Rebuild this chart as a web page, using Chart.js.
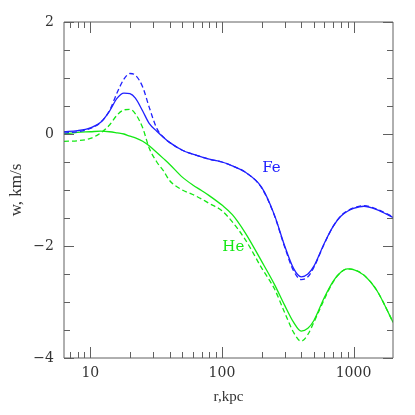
<!DOCTYPE html>
<html>
<head>
<meta charset="utf-8">
<script src="https://cdn.jsdelivr.net/npm/chart.js@4.4.0/dist/chart.umd.min.js"></script>
<style>
html, body { margin: 0; padding: 0; background: #fff; }
#wrap { width: 415px; height: 415px; }
</style>
</head>
<body>
<div id="wrap"><canvas id="wplot"></canvas></div>
<script>
// r in kpc
var radius = [6.31, 8, 10, 12, 14, 16, 18, 20, 22, 25, 28, 32, 36, 40, 50, 60, 70, 80, 100, 120, 150, 200, 250, 300, 350, 400, 450, 500, 600, 700, 800, 900, 1000, 1200, 1500, 1995];

// w in km/s
var feSolid  = [0.04, 0.06, 0.11, 0.21, 0.41, 0.64, 0.73, 0.72, 0.64, 0.41, 0.19, 0.05, -0.06, -0.15, -0.29, -0.36, -0.41, -0.45, -0.50, -0.57, -0.68, -0.95, -1.44, -2.00, -2.40, -2.55, -2.50, -2.36, -1.95, -1.65, -1.47, -1.38, -1.33, -1.29, -1.35, -1.49];
var feDashed = [0.02, 0.04, 0.10, 0.21, 0.42, 0.74, 0.98, 1.08, 1.05, 0.84, 0.48, 0.10, -0.06, -0.15, -0.29, -0.36, -0.41, -0.45, -0.50, -0.57, -0.68, -0.96, -1.45, -2.02, -2.44, -2.60, -2.55, -2.38, -1.96, -1.65, -1.46, -1.37, -1.32, -1.28, -1.34, -1.48];
var heSolid  = [0.00, 0.03, 0.04, 0.05, 0.04, 0.02, 0.00, -0.04, -0.07, -0.13, -0.21, -0.33, -0.44, -0.54, -0.77, -0.91, -1.01, -1.10, -1.27, -1.44, -1.76, -2.27, -2.68, -3.06, -3.36, -3.52, -3.47, -3.33, -2.92, -2.63, -2.47, -2.41, -2.42, -2.52, -2.79, -3.36];
var heDashed = [-0.13, -0.12, -0.08, 0.02, 0.16, 0.34, 0.43, 0.44, 0.36, 0.11, -0.25, -0.50, -0.66, -0.83, -1.00, -1.08, -1.16, -1.24, -1.37, -1.57, -1.88, -2.39, -2.76, -3.19, -3.54, -3.70, -3.58, -3.36, -2.95, -2.64, -2.47, -2.41, -2.42, -2.52, -2.79, -3.36];

var xLabelValues = [10, 100, 1000];
var yLabelValues = [-4, -2, 0, 2];

// curve names written next to the lines
var curveNames = ['Fe', 'He'];
var nameR = [238, 122];
var nameW = [-0.61, -2.02];

var blue = 'rgb(32,32,255)';
var green = 'rgb(20,232,20)';
var nameColors = [blue, green];

function pts(ys) {
    return radius.map(function(r, i) { return {x: r, y: ys[i]}; });
}

function line(label, ys, color, dashed) {
    return {
        label: label,
        data: pts(ys),
        borderColor: color,
        backgroundColor: color,
        borderWidth: 1.3,
        borderDash: dashed ? [5, 3] : [],
        pointRadius: 0,
        fill: false,
        cubicInterpolationMode: 'monotone'
    };
}

// box with inward ticks on all four sides, plus the curve names
var framePlugin = {
    id: 'frame',
    afterDatasetsDraw: function(chart) {
        var ctx = chart.ctx, a = chart.chartArea;
        var xs = chart.scales.x, ys = chart.scales.y;
        ctx.save();
        ctx.strokeStyle = '#606060';
        ctx.lineWidth = 1;
        ctx.beginPath();
        ctx.rect(a.left, a.top, a.right - a.left, a.bottom - a.top);
        for (var d = 0; d <= 3; d++) {
            for (var k = 1; k <= 9; k++) {
                var v = k * Math.pow(10, d);
                if (v < xs.min || v > xs.max) continue;
                var px = Math.round(xs.getPixelForValue(v)) + 0.5;
                var len = k === 1 ? 11 : 6;
                ctx.moveTo(px, a.bottom); ctx.lineTo(px, a.bottom - len);
                ctx.moveTo(px, a.top); ctx.lineTo(px, a.top + len);
            }
        }
        for (var w = -4; w <= 2; w += 0.5) {
            var py = Math.round(ys.getPixelForValue(w)) + 0.5;
            var l = (w % 2 === 0) ? 10 : 6;
            ctx.moveTo(a.left, py); ctx.lineTo(a.left + l, py);
            ctx.moveTo(a.right, py); ctx.lineTo(a.right - l, py);
        }
        ctx.stroke();

        ctx.font = '15px "DejaVu Serif"';
        ctx.textAlign = 'center';
        ctx.textBaseline = 'middle';
        curveNames.forEach(function(name, i) {
            ctx.fillStyle = nameColors[i];
            ctx.fillText(name, xs.getPixelForValue(nameR[i]), ys.getPixelForValue(nameW[i]));
        });
        ctx.restore();
    }
};

var ctx = document.getElementById('wplot').getContext('2d');
var chart = new Chart(ctx, {
    type: 'line',
    data: {
        datasets: [
            line('Fe', feSolid, blue, false),
            line('Fe dashed', feDashed, blue, true),
            line('He', heSolid, green, false),
            line('He dashed', heDashed, green, true)
        ]
    },
    options: {
        responsive: true,
        maintainAspectRatio: false,
        animation: false,
        layout: { padding: { left: 0, top: 22, right: 22, bottom: 0 } },
        plugins: { legend: { display: false }, tooltip: { enabled: false } },
        scales: {
            x: {
                type: 'logarithmic',
                min: 6.31,
                max: 1995,
                grid: { display: false, drawTicks: false },
                border: { display: false },
                afterBuildTicks: function(scale) {
                    scale.ticks = xLabelValues.map(function(v) { return {value: v}; });
                },
                afterFit: function(scale) { scale.height = 57; },
                ticks: {
                    autoSkip: false,
                    maxRotation: 0,
                    padding: 7,
                    color: '#333',
                    font: { family: 'DejaVu Serif', size: 14 },
                    callback: function(v) { return String(v); }
                },
                title: {
                    display: true,
                    text: 'r,kpc',
                    color: '#333',
                    font: { family: 'Liberation Serif', size: 15 },
                    padding: { top: 0, bottom: 9 }
                }
            },
            y: {
                min: -4,
                max: 2,
                grid: { display: false, drawTicks: false },
                border: { display: false },
                afterBuildTicks: function(scale) {
                    scale.ticks = yLabelValues.map(function(v) { return {value: v}; });
                },
                afterFit: function(scale) { scale.width = 64; },
                ticks: {
                    padding: 10,
                    color: '#333',
                    font: { family: 'DejaVu Serif', size: 14 },
                    callback: function(v) { return v < 0 ? '\u2212' + Math.abs(v) : String(v); }
                },
                title: {
                    display: true,
                    text: 'w, km/s',
                    color: '#333',
                    font: { family: 'Liberation Serif', size: 17 },
                    padding: { top: 6, bottom: 0 }
                }
            }
        }
    },
    plugins: [framePlugin]
});
</script>
</body>
</html>
